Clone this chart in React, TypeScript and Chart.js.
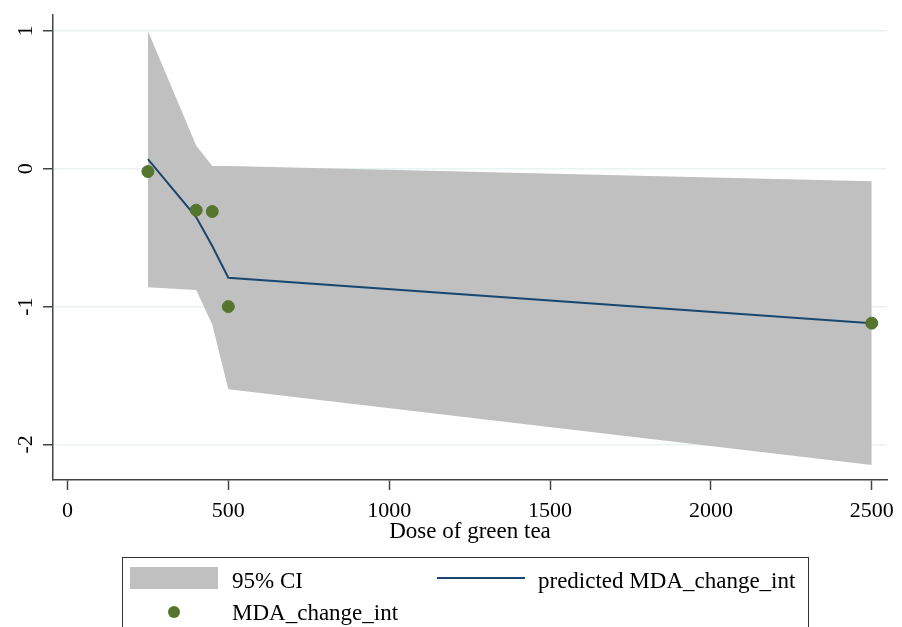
import React, { useEffect, useRef } from "react";
import { Chart, registerables } from "chart.js";

Chart.register(...registerables);

// Data
const doses = [250, 400, 450, 500, 2500];
const observed = [-0.02, -0.3, -0.31, -1.0, -1.12];
const predicted = [0.07, -0.35, -0.56, -0.79, -1.12];
const ciUpper = [1.0, 0.17, 0.02, 0.02, -0.09];
const ciLower = [-0.86, -0.88, -1.13, -1.6, -2.15];

const xTicks = [0, 500, 1000, 1500, 2000, 2500];
const yTicks = [-2, -1, 0, 1];

const xTitle = "Dose of green tea";
const legendCI = "95% CI";
const legendPred = "predicted MDA_change_int";
const legendObs = "MDA_change_int";

const COL_BAND = "#c0c0c0";
const COL_LINE = "#1a476f";
const COL_DOT = "#55752f";
const COL_GRID = "#eaf2f3";
const COL_AXIS = "#444444";
const FONT = "'Liberation Serif', 'Times New Roman', serif";

const pts = (ys: number[]) => doses.map((x, i) => ({ x, y: ys[i] }));

const overlayPlugin = {
  id: "overlay",
  afterDraw(chart: any) {
    const ctx = chart.ctx as CanvasRenderingContext2D;
    const ys = chart.scales.y;
    const xs = chart.scales.x;
    ctx.save();
    ctx.fillStyle = "#000";
    // Y tick labels, rotated
    ctx.font = `22px ${FONT}`;
    ctx.textAlign = "center";
    ctx.textBaseline = "middle";
    yTicks.forEach((v) => {
      ctx.save();
      ctx.translate(26, ys.getPixelForValue(v));
      ctx.rotate(-Math.PI / 2);
      ctx.fillText(String(v), 0, 0);
      ctx.restore();
    });
    // X axis title
    ctx.font = `23px ${FONT}`;
    ctx.textAlign = "center";
    ctx.textBaseline = "alphabetic";
    ctx.fillText(xTitle, (xs.left + xs.right) / 2, 538);

    // Legend box
    ctx.strokeStyle = "#333";
    ctx.lineWidth = 1;
    ctx.strokeRect(122.5, 557.5, 686, 100);
    // CI swatch
    ctx.fillStyle = COL_BAND;
    ctx.fillRect(130, 567, 88, 22);
    // Line swatch
    ctx.strokeStyle = COL_LINE;
    ctx.lineWidth = 2;
    ctx.beginPath();
    ctx.moveTo(437, 578);
    ctx.lineTo(525, 578);
    ctx.stroke();
    // Dot swatch
    ctx.fillStyle = COL_DOT;
    ctx.beginPath();
    ctx.arc(174, 612, 6, 0, Math.PI * 2);
    ctx.fill();
    // Texts
    ctx.fillStyle = "#000";
    ctx.font = `23px ${FONT}`;
    ctx.textAlign = "left";
    ctx.textBaseline = "alphabetic";
    ctx.fillText(legendCI, 232, 588);
    ctx.fillText(legendPred, 538, 588);
    ctx.fillText(legendObs, 232, 620);
    ctx.restore();
  },
};

export default function App() {
  const ref = useRef<HTMLCanvasElement>(null);
  useEffect(() => {
    if (!ref.current) return;
    const chart = new Chart(ref.current, {
      type: "scatter",
      data: {
        datasets: [
          {
            label: legendObs,
            data: pts(observed),
            backgroundColor: COL_DOT,
            borderColor: COL_DOT,
            pointRadius: 6,
            pointHoverRadius: 6,
            showLine: false,
          },
          {
            label: legendPred,
            data: pts(predicted),
            borderColor: COL_LINE,
            borderWidth: 2,
            pointRadius: 0,
            showLine: true,
            fill: false,
          },
          {
            label: "upper",
            data: pts(ciUpper),
            borderWidth: 0,
            borderColor: "rgba(0,0,0,0)",
            backgroundColor: COL_BAND,
            pointRadius: 0,
            showLine: true,
            fill: "+1",
          },
          {
            label: "lower",
            data: pts(ciLower),
            borderWidth: 0,
            borderColor: "rgba(0,0,0,0)",
            backgroundColor: COL_BAND,
            pointRadius: 0,
            showLine: true,
            fill: false,
          },
        ],
      },
      options: {
        responsive: false,
        animation: false,
        layout: { padding: { left: 0, top: 15, right: 14, bottom: 0 } },
        plugins: {
          legend: { display: false },
          tooltip: { enabled: false },
        },
        scales: {
          x: {
            type: "linear",
            min: -45,
            max: 2547.5,
            afterBuildTicks: (s: any) => {
              s.ticks = xTicks.map((v) => ({ value: v }));
            },
            afterFit: (s: any) => {
              s.height = 147;
            },
            grid: {
              drawOnChartArea: false,
              drawTicks: true,
              tickLength: 10,
              tickColor: COL_AXIS,
              tickWidth: 1.5,
            },
            border: { display: true, color: COL_AXIS, width: 1.5 },
            ticks: {
              color: "#000",
              font: { family: FONT, size: 22 },
              padding: 8,
              maxRotation: 0,
              minRotation: 0,
              callback: (v: any) => String(v),
            },
          },
          y: {
            type: "linear",
            min: -2.258,
            max: 1.116,
            afterBuildTicks: (s: any) => {
              s.ticks = yTicks.map((v) => ({ value: v }));
            },
            afterFit: (s: any) => {
              s.width = 53;
            },
            grid: {
              color: COL_GRID,
              lineWidth: 1.5,
              drawTicks: true,
              tickLength: 10,
              tickColor: COL_AXIS,
              tickWidth: 1.5,
            },
            border: { display: true, color: COL_AXIS, width: 1.5 },
            ticks: { display: false },
          },
        },
      },
      plugins: [overlayPlugin],
    });
    return () => chart.destroy();
  }, []);
  return (
    <div style={{ position: "absolute", left: 0, top: 0, width: 902, height: 627, background: "#fff" }}>
      <canvas ref={ref} width={902} height={627} style={{ display: "block" }} />
    </div>
  );
}
